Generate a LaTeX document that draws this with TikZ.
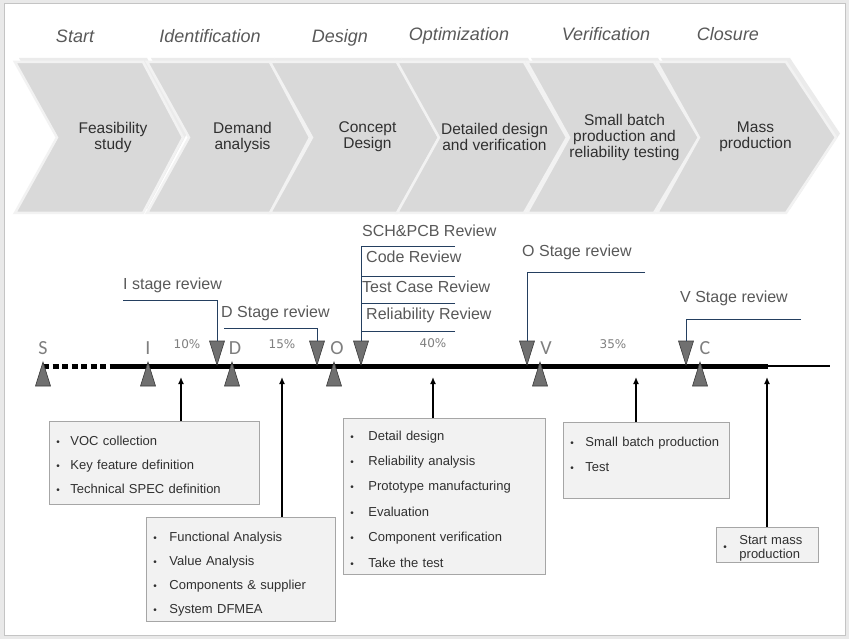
\documentclass[tikz,border=0pt]{standalone}
\usepackage{fontspec}
\setmainfont{Liberation Sans}
\newfontfamily\pctfont{DejaVu Sans}
\newfontfamily\msfont{Carlito}
\usetikzlibrary{arrows.meta, positioning, calc}
\definecolor{chevfill}{HTML}{D9D9D9}
\definecolor{chevedge}{HTML}{F2F2F2}
\definecolor{chevshade}{HTML}{EBEBEB}
\definecolor{phasegray}{HTML}{595959}
\definecolor{txtdark}{HTML}{303030}
\definecolor{revblue}{HTML}{243F60}
\definecolor{markfill}{HTML}{707070}
\definecolor{markedge}{HTML}{3A3A3A}
\definecolor{pctgray}{HTML}{7F7F7F}
\definecolor{boxfill}{HTML}{F2F2F2}
\definecolor{boxedge}{HTML}{A6A6A6}
\definecolor{framebg}{HTML}{E9E9E9}
\definecolor{frameedge}{HTML}{C4C4C4}
\tikzset{
    chevron/.style = {fill=chevfill, draw=chevedge, line width=2.5pt, line join=miter},
    shade/.style = {fill=chevshade},
    chevtext/.style = {align=center, text=txtdark, font=\fontsize{15.5}{16}\selectfont},
    phase/.style = {anchor=base, text=phasegray, font=\fontsize{18}{18}\selectfont\itshape},
    review/.style = {anchor=west, inner sep=0pt, text=phasegray, font=\fontsize{16}{16}\selectfont},
    revline/.style = {draw=revblue, line width=0.9pt},
    marker/.style = {fill=markfill, draw=markedge, line width=0.6pt, line join=miter},
    mslabel/.style = {text=pctgray, font=\msfont\fontsize{20}{20}\selectfont},
    pct/.style = {text=pctgray, font=\pctfont\fontsize{12}{12}\selectfont},
    listbox/.style = {draw=boxedge, fill=boxfill, line width=0.9pt, anchor=north west,
        align=left, inner xsep=7pt, inner ysep=0pt, text=txtdark},
    boxarrow/.style = {-{Latex[length=7pt,width=6pt]}, line width=2pt}
}
\newcommand{\itm}[2][14pt]{\makebox[#1][l]{\fontsize{10}{10}\selectfont\textbullet}#2}

\begin{document}
\begin{tikzpicture}[x=1pt, y=-1pt, >=Latex]
    \useasboundingbox (0,0) rectangle (849,639);
    \fill[framebg] (0,0) rectangle (849,639);
    \draw[draw=frameedge, fill=white, line width=1pt] (4,4) rectangle (845,635);
    % Phases
    \foreach \x/\y/\p [count=\i] in {75/43/Start, 210/43/Identification, 340/43/Design,
            459/41/Optimization, 606/41/Verification, 728/41/Closure}
        \node[phase] (ph\i) at (\x,\y) {\p};
    % Chevrons
    \foreach \l/\r/\t/\txt [count=\i] in {15/143/183/{Feasibility\\study},
            147/270/310/{Demand\\analysis}, 270/397/439/{Concept\\Design},
            397/524/567/{Detailed design\\and verification},
            527/654/699/{Small batch\\production and\\reliability testing},
            657/786/836/{Mass\\production}} {
        \fill[shade] (\l+4,58) -- (\r+4,58) -- (\t+4,133.5) -- (\r+4,209)
            -- (\l+4,209) -- (\l+46,133.5) -- cycle;
        \draw[chevron] (\l,62) -- (\r,62) -- (\t,137.5) -- (\r,213)
            -- (\l,213) -- (\l+42,137.5) -- cycle;
        \node[chevtext] (ch\i) at (\l/2+\r/2+34,137) {\txt};
    }
    % Timeline
    \coordinate (tlS) at (43,366);
    \coordinate (tlA) at (110,366);
    \coordinate (tlE) at (768,366);
    \coordinate (tlR) at (830,366);
    \draw[line width=5pt, dash pattern=on 6pt off 3.5pt] (tlS) -- (tlA);
    \draw[line width=5pt] (tlA) -- (tlE);
    \draw[line width=1.2pt] (tlE) -- (tlR);
    % Milestones
    \foreach \x/\lx/\n in {43/43/S, 148/148/I, 232/235/D, 334/337/O, 540/546/V, 700/705/C} {
        \coordinate (up\n) at (\x,362);
        \draw[marker] (up\n) -- ++(7.5,24) -- ++(-15,0) -- cycle;
        \node[mslabel] (ms\n) at (\lx,348) {\n};
    }
    \foreach \x/\n in {217/I, 317/D, 361/R, 527/O, 686/V} {
        \coordinate (dn\n) at (\x,341);
        \draw[marker] (dn\n) -- ++(7.5,0) -- ++(-7.5,24) -- ++(-7.5,-24) -- cycle;
    }
    \node[pct] (pct1) at (187,344) {10\%};
    \node[pct] (pct2) at (282,344) {15\%};
    \node[pct] (pct3) at (433,343) {40\%};
    \node[pct] (pct4) at (613,344) {35\%};
    % Reviews
    \node[review] (revI) at (123,285) {I stage review};
    \node[review] (revD) at (221,313) {D Stage review};
    \node[review] (revS1) at (362,231) {SCH\&PCB Review};
    \node[review] (revS2) at (366,257) {Code Review};
    \node[review] (revS3) at (362,287) {Test Case Review};
    \node[review] (revS4) at (366,315) {Reliability Review};
    \node[review] (revO) at (522,252) {O Stage review};
    \node[review] (revV) at (680,298) {V Stage review};
    \coordinate (revIa) at (123,300);
    \coordinate (revDa) at (224,328);
    \coordinate (revOa) at (645,272);
    \coordinate (revVa) at (801,319);
    \draw[revline] (revIa) -| (dnI);
    \draw[revline] (revDa) -| (dnD);
    \draw[revline] (revOa) -| (dnO);
    \draw[revline] (revVa) -| (dnV);
    \foreach \y [count=\i] in {246, 276, 303, 331}
        \coordinate (revR\i) at (455,\y);
    \draw[revline] (revR1) -| (dnR);
    \foreach \i in {2,3,4}
        \draw[revline] (revR\i) -- (revR\i -| dnR);
    % Boxes
    \node[listbox, font=\fontsize{13}{24}\selectfont, text width=196pt,
        text height=23.7pt, text depth=59.3pt] (box1) at (49,421)
        {\itm{VOC collection}\\\itm{Key feature definition}\\\itm{Technical SPEC definition}};
    \node[listbox, font=\fontsize{13}{24}\selectfont, text width=175pt,
        text height=23.7pt, text depth=80.3pt] (box2) at (146,517)
        {\itm[16pt]{Functional Analysis}\\\itm[16pt]{Value Analysis}\\
         \itm[16pt]{Components \& supplier}\\\itm[16pt]{System DFMEA}};
    \node[listbox, font=\fontsize{13}{25.4}\selectfont, text width=188pt,
        text height=21.7pt, text depth=134.3pt] (box3) at (343,418)
        {\itm[18pt]{Detail design}\\\itm[18pt]{Reliability analysis}\\
         \itm[18pt]{Prototype manufacturing}\\\itm[18pt]{Evaluation}\\
         \itm[18pt]{Component verification}\\\itm[18pt]{Take the test}};
    \node[listbox, font=\fontsize{13}{25}\selectfont, text width=152pt,
        text height=23.7pt, text depth=52.3pt] (box4) at (563,422)
        {\itm[15pt]{Small batch production}\\\itm[15pt]{Test}};
    \node[listbox, font=\fontsize{13}{14}\selectfont, text width=88pt,
        text height=16.7pt, text depth=18.3pt] (box5) at (716,527)
        {\makebox[16pt][l]{\raisebox{-6pt}{\fontsize{10}{10}\selectfont\textbullet}}%
         \parbox[t]{70pt}{Start mass\\production}};
    % Arrows
    \coordinate (ar1) at (181,377);
    \coordinate (ar2) at (282,377);
    \coordinate (ar3) at (433,377);
    \coordinate (ar4) at (636,377);
    \coordinate (ar5) at (767,377);
    \foreach \i in {1,...,5}
        \draw[boxarrow] (ar\i |- box\i.north) -- (ar\i);
\end{tikzpicture}
\end{document}
